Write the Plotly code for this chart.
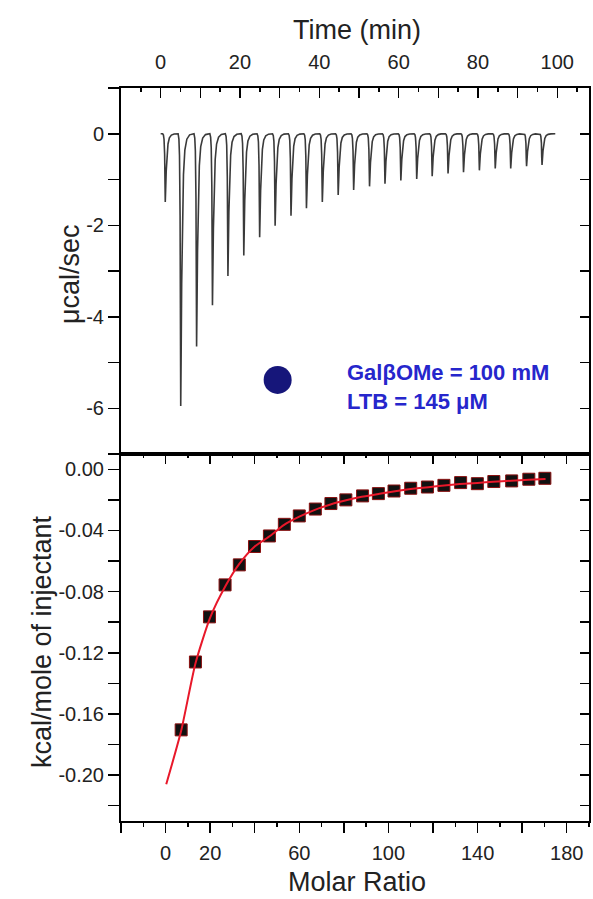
import plotly.graph_objects as go

# ---------------- data ----------------
# Raw ITC thermogram: injection times (min) and peak depths (ucal/sec)
inj_time = [1.0, 4.9, 8.9, 12.9, 16.8, 20.8, 24.8, 28.7, 32.7, 36.6, 40.6, 44.6,
            48.5, 52.5, 56.4, 60.4, 64.4, 68.3, 72.3, 76.2, 80.2, 84.2, 88.1, 92.1, 96.0]
inj_depth = [-1.49, -5.95, -4.65, -3.75, -3.11, -2.66, -2.26, -2.01, -1.79, -1.63,
             -1.49, -1.34, -1.23, -1.15, -1.09, -1.02, -0.99, -0.93, -0.87, -0.84,
             -0.80, -0.76, -0.76, -0.71, -0.68]
baseline_start = 0.0
baseline_end = 99.5
# Peak profile read from one spike: offset from injection (min) and fraction of depth
peak_offset = [-0.5, -0.3, -0.15, 0.0, 0.08, 0.16, 0.26, 0.4, 0.6, 0.85, 1.2, 1.7, 2.4, 3.2]
peak_frac = [0, 0.02, 0.08, 0.3, 0.75, 1.0, 0.82, 0.55, 0.3, 0.15, 0.06, 0.02, 0.004, 0]

# Integrated heats
molar_ratio = [7.0, 13.4, 19.7, 26.7, 33.1, 39.9, 46.6, 53.3, 60.0, 67.2, 74.2, 80.9,
               88.4, 95.5, 102.5, 110.0, 117.5, 124.9, 132.4, 139.9, 147.3, 155.3, 163.0, 170.2]
heat = [-0.1704, -0.126, -0.0965, -0.0756, -0.0625, -0.0505, -0.0436, -0.036, -0.0305,
        -0.026, -0.0224, -0.020, -0.0174, -0.0159, -0.0142, -0.0124, -0.0116, -0.0105,
        -0.0087, -0.0094, -0.008, -0.0076, -0.0065, -0.0059]

# Fitted curve
fit_x = [0.3, 7, 13.4, 20, 27, 33, 40, 47, 53, 60, 67, 74, 81, 88, 96, 103, 110, 118,
         125, 132, 140, 147, 155, 163, 170.5]
fit_y = [-0.206, -0.171, -0.127, -0.097, -0.076, -0.062, -0.0505, -0.0435, -0.0365,
         -0.031, -0.0265, -0.023, -0.0203, -0.018, -0.016, -0.0143, -0.0129, -0.0117,
         -0.0106, -0.0097, -0.0089, -0.0082, -0.0075, -0.0069, -0.0063]

# Axis ticks
time_ticks = [-10, 0, 10, 20, 30, 40, 50, 60, 70, 80, 90, 100]
time_labels = ["", "0", "", "20", "", "40", "", "60", "", "80", "", "100"]
pow_ticks = [1, 0, -1, -2, -3, -4, -5, -6, -7]
pow_labels = ["", "0", "", "-2", "", "-4", "", "-6", ""]
mr_ticks = [-20, 0, 20, 40, 60, 80, 100, 120, 140, 160, 180]
mr_labels = ["", "0", "20", "", "60", "", "100", "", "140", "", "180"]
heat_ticks = [0.0, -0.02, -0.04, -0.06, -0.08, -0.10, -0.12, -0.14, -0.16, -0.18, -0.20, -0.22]
heat_labels = ["0.00", "", "-0.04", "", "-0.08", "", "-0.12", "", "-0.16", "", "-0.20", ""]

legend_lines = ["Gal\u03b2OMe = 100 mM", "LTB = 145 \u03bcM"]

# ---------------- build figure ----------------
W, H = 593, 899
L, R, T, B = 121, 589, 88, 821
split = 454
pw, ph = R - L, B - T
ysplit = (B - split) / ph


def px(x):
    return (x - L) / pw


def py(y):
    return (B - y) / ph


# thermogram trace from peak data
tt = [baseline_start]
ss = [0.0]
for ti, di in zip(inj_time, inj_depth):
    for o, f in zip(peak_offset, peak_frac):
        tt.append(ti + o)
        ss.append(di * f)
tt.append(baseline_end)
ss.append(0.0)

fig = go.Figure()
fig.add_trace(go.Scatter(x=tt, y=ss, mode="lines", xaxis="x", yaxis="y",
                         line=dict(color="#3a3a3a", width=1.6), showlegend=False))
# legend dot
fig.add_trace(go.Scatter(x=[29.5], y=[-5.38], mode="markers", xaxis="x", yaxis="y",
                         marker=dict(size=28, color="#16167a"), showlegend=False))

fig.add_trace(go.Scatter(x=molar_ratio, y=heat, mode="markers", xaxis="x2", yaxis="y2",
                         marker=dict(symbol="square", size=12, color="#111111",
                                     line=dict(color="#8a1010", width=1)),
                         showlegend=False))
fig.add_trace(go.Scatter(x=fit_x, y=fit_y, mode="lines", xaxis="x2", yaxis="y2",
                         line=dict(color="#e8182a", width=2, shape="spline", smoothing=0.6),
                         showlegend=False))
# dummy traces for overlay axes
fig.add_trace(go.Scatter(x=[None], y=[None], xaxis="x", yaxis="y3", showlegend=False))
fig.add_trace(go.Scatter(x=[None], y=[None], xaxis="x3", yaxis="y2", showlegend=False))
fig.add_trace(go.Scatter(x=[None], y=[None], xaxis="x2", yaxis="y4", showlegend=False))

tickfont = dict(family="Liberation Sans, Arial, sans-serif", size=20, color="#222222")
common = dict(showgrid=False, zeroline=False, showline=True, linecolor="black",
              linewidth=2, tickcolor="black", tickwidth=1.5, tickfont=tickfont,
              automargin=False)

fig.update_layout(
    width=W, height=H,
    margin=dict(l=L, r=W - R, t=T, b=H - B, autoexpand=False),
    paper_bgcolor="white", plot_bgcolor="white",
    font=dict(family="Liberation Sans, Arial, sans-serif"),
    hovermode=False,
    xaxis=dict(**common, domain=[0, 1], anchor="y", side="top", range=[-10, 108],
               ticks="inside", ticklen=10, tickvals=time_ticks, ticktext=time_labels,
               ticklabelstandoff=9, mirror=True,
               minor=dict(ticks="inside", dtick=5, tick0=0, ticklen=4, tickcolor="black")),
    yaxis=dict(**common, domain=[ysplit, 1], anchor="x", range=[-7, 1],
               ticks="outside", ticklen=11, tickvals=pow_ticks, ticktext=pow_labels,
               mirror=True),
    yaxis3=dict(overlaying="y", side="right", anchor="x", range=[-7, 1], showgrid=False,
                zeroline=False, showline=False, ticks="inside", ticklen=9,
                tickvals=pow_ticks, showticklabels=False, tickcolor="black", tickwidth=1.5),
    xaxis2=dict(**common, domain=[0, 1], anchor="y2", range=[-20, 190],
                ticks="outside", ticklen=10, tickvals=mr_ticks, ticktext=mr_labels,
                ticklabelstandoff=3, mirror=True,
                minor=dict(ticks="outside", dtick=10, tick0=0, ticklen=4, tickcolor="black")),
    xaxis3=dict(overlaying="x2", side="top", anchor="y2", range=[-20, 190], showgrid=False,
                zeroline=False, showline=False, ticks="inside", ticklen=10,
                tickvals=mr_ticks, showticklabels=False, tickcolor="black", tickwidth=1.5,
                minor=dict(ticks="inside", dtick=10, tick0=0, ticklen=4, tickcolor="black")),
    yaxis2=dict(**common, domain=[0, ysplit], anchor="x2", range=[-0.23, 0.01],
                ticks="outside", ticklen=11, tickvals=heat_ticks, ticktext=heat_labels,
                mirror=True),
    yaxis4=dict(overlaying="y2", side="right", anchor="x2", range=[-0.23, 0.01],
                showgrid=False, zeroline=False, showline=False, ticks="inside", ticklen=9,
                tickvals=heat_ticks, showticklabels=False, tickcolor="black", tickwidth=1.5),
)

title_font = dict(family="Liberation Sans, Arial, sans-serif", size=27, color="#222222")
fig.add_annotation(text="Time (min)", xref="paper", yref="paper", x=px(357), y=py(30),
                   showarrow=False, font=title_font, xanchor="center", yanchor="middle")
fig.add_annotation(text="Molar Ratio", xref="paper", yref="paper", x=px(357), y=py(882),
                   showarrow=False, font=title_font, xanchor="center", yanchor="middle")
fig.add_annotation(text="\u03bccal/sec", xref="paper", yref="paper", x=px(70), y=py(274),
                   showarrow=False, font=title_font, textangle=-90,
                   xanchor="center", yanchor="middle")
fig.add_annotation(text="kcal/mole of injectant", xref="paper", yref="paper", x=px(42),
                   y=py(642), showarrow=False, font=title_font, textangle=-90,
                   xanchor="center", yanchor="middle")

leg_font = dict(family="Liberation Sans, Arial, sans-serif", size=22, color="#2626cc")
for i, txt in enumerate(legend_lines):
    fig.add_annotation(text="<b>" + txt + "</b>", xref="paper", yref="paper", x=px(345),
                       y=py(372 + 29 * i), showarrow=False, font=leg_font,
                       xanchor="left", yanchor="middle")

fig.write_html("out.html", config={"displayModeBar": False, "staticPlot": True},
               post_script="document.body.style.margin='0';"
                           "document.body.style.overflow='hidden';")
